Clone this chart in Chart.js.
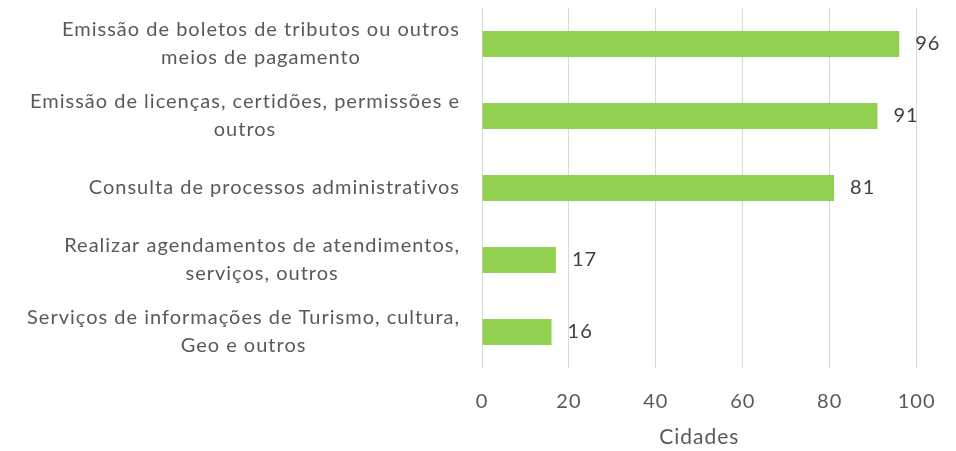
<!DOCTYPE html>
<html>
<head>
<meta charset="utf-8">
<script src="https://cdn.jsdelivr.net/npm/chart.js@4"></script>
<style>
  html, body { margin: 0; padding: 0; background: #fff; }
  .wrap { width: 956px; height: 451px; position: relative; }
</style>
</head>
<body>
<div class="wrap"><canvas id="chart"></canvas></div>
<script>
const categories = [
  ['Emissão de boletos de tributos ou outros', 'meios de pagamento'],
  ['Emissão de licenças, certidões, permissões e', 'outros'],
  ['Consulta de processos administrativos'],
  ['Realizar agendamentos de atendimentos,', 'serviços, outros'],
  ['Serviços de informações de Turismo, cultura,', 'Geo e outros'],
];
const cidades = [96, 91, 81, 17, 16];
const xTicks = [0, 20, 40, 60, 80, 100];

const FONT = "Lato, 'Open Sans', sans-serif";
const FONT_SIZE = 20;

// reference text is set wider than Lato, so open the letters up a little
const spacing = {
  id: 'spacing',
  beforeDraw(chart) {
    chart.ctx.letterSpacing = '1px';
  },
};

// Excel-style category labels: block right-aligned, lines centred inside the block
const categoryLabels = {
  id: 'categoryLabels',
  afterDraw(chart) {
    const { ctx, scales: { y } } = chart;
    const lineH = 28;
    const right = y.right - 22;
    ctx.save();
    ctx.letterSpacing = '1px';
    ctx.font = `${FONT_SIZE}px ${FONT}`;
    ctx.fillStyle = '#595959';
    ctx.textAlign = 'center';
    ctx.textBaseline = 'middle';
    categories.forEach((lines, i) => {
      const widest = Math.max(...lines.map((l) => ctx.measureText(l).width));
      const cx = right - widest / 2;
      const cy = y.getPixelForTick(i);
      const top = cy - ((lines.length - 1) * lineH) / 2;
      lines.forEach((l, k) => ctx.fillText(l, cx, top + k * lineH));
    });
    ctx.restore();
  },
};

const valueLabels = {
  id: 'valueLabels',
  afterDatasetsDraw(chart) {
    const { ctx } = chart;
    const meta = chart.getDatasetMeta(0);
    ctx.save();
    ctx.letterSpacing = '1px';
    ctx.font = `${FONT_SIZE}px ${FONT}`;
    ctx.fillStyle = '#404040';
    ctx.textAlign = 'left';
    ctx.textBaseline = 'middle';
    meta.data.forEach((bar, i) => {
      ctx.fillText(String(cidades[i]), bar.x + 16, bar.y);
    });
    ctx.restore();
  },
};

new Chart(document.getElementById('chart'), {
  type: 'bar',
  data: {
    labels: categories,
    datasets: [{
      label: 'Cidades',
      data: cidades,
      backgroundColor: '#92d050',
      borderWidth: 0,
      barPercentage: 0.36,
      categoryPercentage: 1,
    }],
  },
  options: {
    indexAxis: 'y',
    responsive: true,
    maintainAspectRatio: false,
    animation: false,
    layout: { padding: { top: 8, right: 39, left: 0, bottom: 0 } },
    plugins: {
      legend: { display: false },
      tooltip: { enabled: false },
    },
    scales: {
      x: {
        min: 0,
        max: 100,
        afterBuildTicks: (scale) => { scale.ticks = xTicks.map((v) => ({ value: v })); },
        afterFit: (scale) => { scale.height = 83; },
        grid: { color: '#d9d9d9', lineWidth: 1, drawTicks: false, tickLength: 0 },
        border: { display: false },
        ticks: {
          color: '#595959',
          padding: 22,
          font: { family: FONT, size: FONT_SIZE },
        },
        title: {
          display: true,
          text: 'Cidades',
          color: '#595959',
          padding: { top: 0, bottom: 1 },
          font: { family: FONT, size: 21 },
        },
      },
      y: {
        afterFit: (scale) => { scale.width = 482; },
        grid: { display: false },
        border: { display: false },
        ticks: { display: false },
      },
    },
  },
  plugins: [spacing, categoryLabels, valueLabels],
});
</script>
</body>
</html>
